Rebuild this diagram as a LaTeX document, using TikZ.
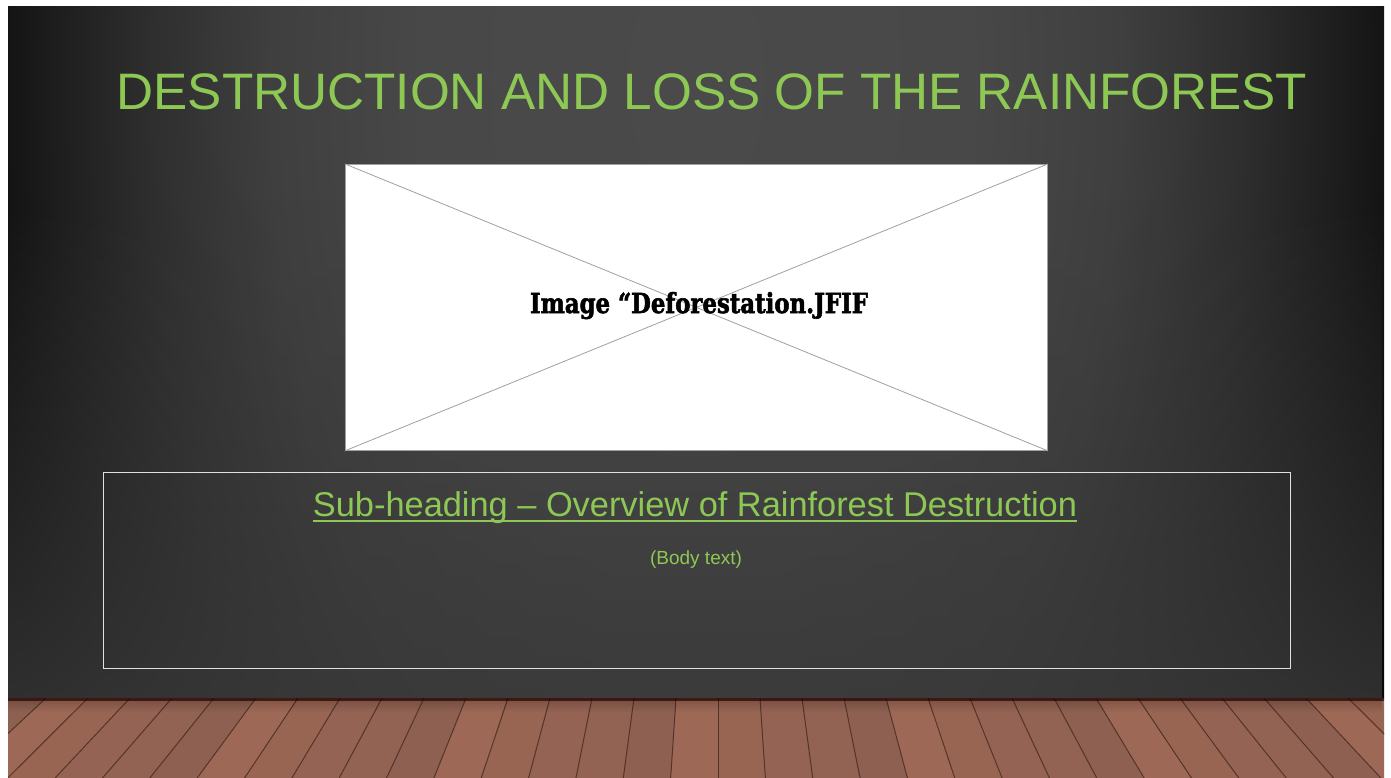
\documentclass[tikz,border=0pt]{standalone}
\usepackage{fontspec}
\setmainfont{Liberation Sans}
\newfontfamily\slabfont[BoldFeatures={FakeBold=2.2}]{DejaVu Serif}
\usetikzlibrary{calc,fadings}

\definecolor{titlegreen}{RGB}{141,200,84}
\definecolor{wallc0}{RGB}{74,74,74}
\definecolor{wallc1}{RGB}{72,72,72}
\definecolor{wallc2}{RGB}{63,63,63}
\definecolor{wallc3}{RGB}{46,46,46}
\definecolor{wallc4}{RGB}{30,30,30}
\definecolor{wallc5}{RGB}{12,12,12}
\definecolor{wallbottom}{RGB}{57,57,57}
\definecolor{plankcol0}{RGB}{152,101,83}
\definecolor{plankcol1}{RGB}{146,98,82}
\definecolor{plankcol2}{RGB}{158,104,86}
\definecolor{plankcol3}{RGB}{149,99,84}
\definecolor{plankcol4}{RGB}{142,96,81}
\definecolor{plankline}{RGB}{84,52,40}
\definecolor{framegray}{RGB}{160,160,160}

% bright vertical band in the middle of the wall, dark towards the sides
\pgfdeclareradialshading{wallglow}{\pgfpointorigin}{%
  color(0bp)=(wallc0); color(9bp)=(wallc1); color(14bp)=(wallc2);
  color(18bp)=(wallc3); color(21bp)=(wallc4); color(24bp)=(wallc5);
  color(27bp)=(black); color(50bp)=(black)}

% lighter lower part of the wall
\tikzfading[name=risefade, top color=transparent!100, bottom color=transparent!20]
% shadow of the wall on the floor
\tikzfading[name=dropfade, top color=transparent!80, bottom color=transparent!100]

\tikzset{
  plankedge/.style={draw=plankline, line width=1pt},
  titletext/.style={text=titlegreen, inner sep=0pt, anchor=base},
  framebox/.style={draw=framegray, fill=white, line width=0.8pt, inner sep=0pt, anchor=north west},
  crossline/.style={draw=framegray, line width=0.8pt},
  textpanel/.style={draw=white!88!black, line width=1pt, inner sep=0pt, anchor=north west}
}

\begin{document}
\begin{tikzpicture}[x=1pt,y=-1pt]
\useasboundingbox (0,0) rectangle (1391,778);
\fill[white] (0,0) rectangle (1391,778);

% dark wall
\begin{scope}
  \clip (8,7) rectangle (1384,698);
  \shade[shading=wallglow] (-64,-1320) rectangle (1456,1480);
  \fill[wallbottom, path fading=risefade] (8,200) rectangle (1384,698);
\end{scope}

% wooden floor, planks converging towards the wall
\begin{scope}
  \clip (8,698) rectangle (1384,778);
  \foreach \k in {-19,...,18} {
    \pgfmathtruncatemacro\idx{mod(\k*3+60,5)}
    \fill[plankcol\idx] ({718+42*\k},698) -- ({718+42*(\k+1)},698)
      -- ({718+47.35*(\k+1)},778) -- ({718+47.35*\k},778) -- cycle;
    \draw[plankedge] ({718+42*\k},698) -- ({718+47.35*\k},778);
  }
  \fill[black, path fading=dropfade] (8,698) rectangle (1384,712);
  \fill[black!85!red, opacity=0.7] (8,697) rectangle (1384,700.5);
\end{scope}

% title
\node[titletext] (title) at (712,110)
  {\resizebox{1190pt}{!}{DESTRUCTION AND LOSS OF THE RAINFOREST}};

% image placeholder
\node[framebox, minimum width=702pt, minimum height=286pt] (img) at (345,164) {};
\draw[crossline] (img.north west) -- (img.south east);
\draw[crossline] (img.south west) -- (img.north east);
\node[inner sep=0pt, anchor=base] (imgcap) at (699,313)
  {\resizebox{338pt}{21pt}{\slabfont\bfseries Image “Deforestation.JFIF}};

% text panel
\node[textpanel, minimum width=1187pt, minimum height=196pt] (panel) at (103,472) {};
\node[titletext] (sub) at (695,516)
  {\resizebox{764pt}{!}{Sub-heading – Overview of Rainforest Destruction}};
\draw[titlegreen, line width=1.6pt] ([yshift=-5pt]sub.base west) -- ([yshift=-5pt]sub.base east);
\node[titletext, font=\fontsize{19}{22}\selectfont] (body) at (696,564) {(Body text)};
\end{tikzpicture}
\end{document}
